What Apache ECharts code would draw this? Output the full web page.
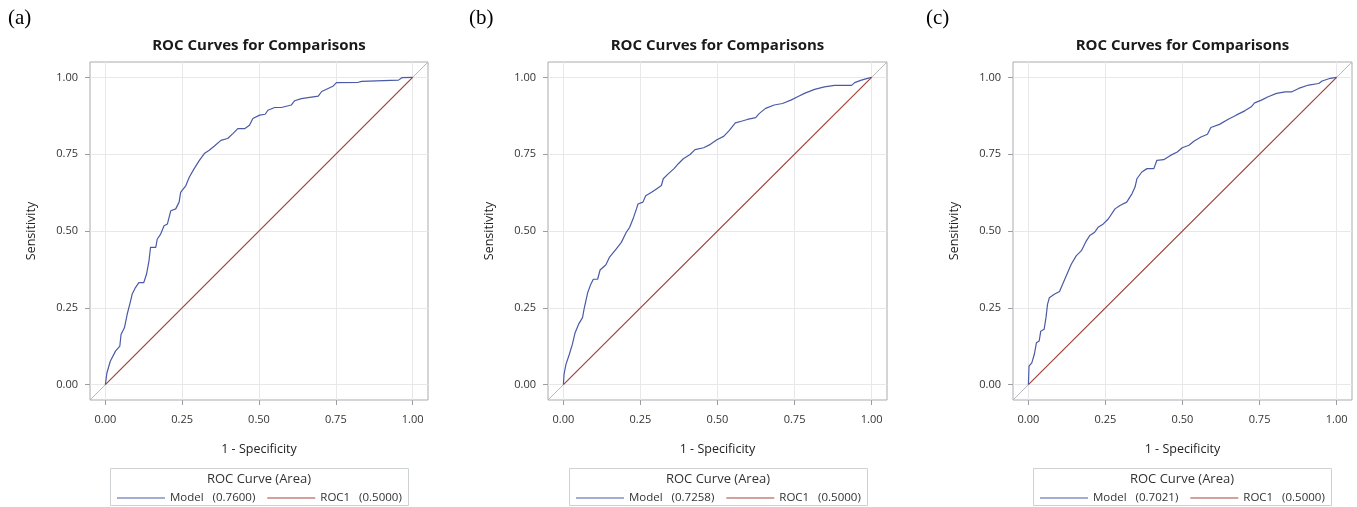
<!DOCTYPE html>
<html>
<head>
<meta charset="utf-8">
<title>ROC Curves for Comparisons</title>
<script src="https://cdn.jsdelivr.net/npm/echarts@6/dist/echarts.min.js"></script>
<style>
    html, body { margin: 0; padding: 0; background: #fff; }
    #main { width: 1357px; height: 507px; }
</style>
</head>
<body>
<div id="main"></div>
<script>
    // ---- data ----
    var panelTags = ['(a)', '(b)', '(c)'];
    var modelAreas = ['0.7600', '0.7258', '0.7021'];
    var tickValues = [0, 0.25, 0.5, 0.75, 1];

    // (a) Model ROC: 1 - specificity / sensitivity
    var fprA = [0, 0.005, 0.016, 0.033, 0.047, 0.051, 0.062, 0.071, 0.082, 0.087, 0.098, 0.109, 0.125, 0.134, 0.142, 0.147, 0.164, 0.169, 0.180, 0.191, 0.202, 0.213, 0.229, 0.240, 0.245, 0.262, 0.273, 0.289, 0.306, 0.322, 0.338, 0.354, 0.376, 0.398, 0.415, 0.431, 0.453, 0.469, 0.480, 0.502, 0.520, 0.529, 0.551, 0.573, 0.605, 0.616, 0.638, 0.665, 0.693, 0.704, 0.725, 0.742, 0.752, 0.823, 0.834, 0.954, 0.965, 1];
    var tprA = [0, 0.038, 0.076, 0.109, 0.125, 0.163, 0.185, 0.229, 0.272, 0.294, 0.316, 0.332, 0.332, 0.360, 0.403, 0.447, 0.447, 0.474, 0.490, 0.517, 0.523, 0.566, 0.572, 0.594, 0.626, 0.648, 0.675, 0.703, 0.730, 0.752, 0.763, 0.776, 0.795, 0.801, 0.817, 0.833, 0.833, 0.844, 0.866, 0.877, 0.880, 0.893, 0.902, 0.902, 0.910, 0.924, 0.931, 0.935, 0.939, 0.954, 0.964, 0.972, 0.983, 0.984, 0.987, 0.991, 0.999, 1];

    // (b)
    var fprB = [0, 0.002, 0.008, 0.019, 0.029, 0.038, 0.049, 0.062, 0.068, 0.079, 0.089, 0.097, 0.111, 0.119, 0.138, 0.149, 0.171, 0.188, 0.204, 0.215, 0.228, 0.237, 0.242, 0.258, 0.267, 0.286, 0.302, 0.318, 0.324, 0.340, 0.359, 0.373, 0.389, 0.411, 0.427, 0.455, 0.477, 0.498, 0.520, 0.537, 0.558, 0.580, 0.597, 0.624, 0.635, 0.656, 0.684, 0.711, 0.738, 0.760, 0.782, 0.815, 0.847, 0.880, 0.935, 0.945, 0.967, 0.984, 1];
    var tprB = [0, 0.033, 0.065, 0.098, 0.131, 0.169, 0.196, 0.218, 0.251, 0.300, 0.327, 0.343, 0.343, 0.373, 0.390, 0.414, 0.441, 0.463, 0.496, 0.512, 0.545, 0.572, 0.588, 0.594, 0.615, 0.626, 0.637, 0.648, 0.670, 0.686, 0.703, 0.719, 0.735, 0.749, 0.765, 0.771, 0.782, 0.797, 0.808, 0.826, 0.852, 0.858, 0.863, 0.869, 0.882, 0.899, 0.910, 0.915, 0.926, 0.937, 0.948, 0.961, 0.969, 0.974, 0.974, 0.983, 0.991, 0.996, 1];

    // (c)
    var fprC = [0, 0.002, 0.011, 0.019, 0.026, 0.035, 0.040, 0.051, 0.057, 0.062, 0.068, 0.084, 0.101, 0.111, 0.125, 0.139, 0.155, 0.172, 0.188, 0.199, 0.215, 0.226, 0.243, 0.259, 0.281, 0.297, 0.319, 0.336, 0.346, 0.352, 0.368, 0.385, 0.407, 0.417, 0.439, 0.461, 0.483, 0.499, 0.521, 0.538, 0.560, 0.581, 0.592, 0.620, 0.647, 0.674, 0.702, 0.723, 0.734, 0.756, 0.778, 0.805, 0.833, 0.855, 0.877, 0.909, 0.942, 0.953, 0.980, 1];
    var tprC = [0, 0.060, 0.071, 0.098, 0.136, 0.142, 0.174, 0.180, 0.218, 0.261, 0.283, 0.294, 0.303, 0.327, 0.359, 0.392, 0.419, 0.436, 0.468, 0.485, 0.496, 0.512, 0.523, 0.539, 0.572, 0.583, 0.594, 0.621, 0.643, 0.670, 0.692, 0.703, 0.703, 0.730, 0.732, 0.746, 0.757, 0.771, 0.779, 0.793, 0.806, 0.815, 0.837, 0.847, 0.863, 0.877, 0.891, 0.904, 0.917, 0.926, 0.937, 0.948, 0.953, 0.953, 0.964, 0.975, 0.980, 0.988, 0.997, 1];

    // chance line (ROC1) and the grey reference diagonal (full axis range)
    var chanceX = [0, 1];
    var chanceY = [0, 1];
    var refX = [-0.05, 1.05];
    var refY = [-0.05, 1.05];

    var fprList = [fprA, fprB, fprC];
    var tprList = [tprA, tprB, tprC];

    function pairs(xs, ys) {
        var out = [];
        for (var i = 0; i < xs.length; i++) out.push([xs[i], ys[i]]);
        return out;
    }

    // ---- layout ----
    var FONT = '"Open Sans", "DejaVu Sans", sans-serif';
    var BLUE = '#4a5aa6', RED = '#a8443a';
    var LINE_ICON = 'path://M0,0 H48 V1.2 H0 Z';
    var gridLefts = [90, 548, 1013];
    var gridWidths = [338, 339, 339];
    var tagLefts = [8, 469, 926];
    var boxLefts = [110, 569, 1033];
    var boxWidth = 298;

    var myChart = echarts.init(document.getElementById('main'), null, {renderer: 'canvas'});

    var grids = [], xAxes = [], yAxes = [], series = [], legends = [], graphics = [];

    function axisCommon(name) {
        return {
            type: 'value',
            min: -0.05,
            max: 1.05,
            name: name,
            nameLocation: 'middle',
            nameTextStyle: {fontFamily: FONT, fontSize: 12.5, color: '#222'},
            axisLine: {show: false, onZero: false},
            axisTick: {show: true, length: 5, customValues: tickValues, lineStyle: {color: '#9a9ea3'}},
            axisLabel: {
                customValues: tickValues,
                fontFamily: FONT, fontSize: 11, color: '#333',
                formatter: function (v) { return v.toFixed(2); }
            },
            splitLine: {show: true, lineStyle: {color: '#e8e8ea', width: 1}}
        };
    }

    for (var p = 0; p < 3; p++) {
        var cx = gridLefts[p] + gridWidths[p] / 2;
        grids.push({
            left: gridLefts[p], top: 62, width: gridWidths[p], height: 338,
            show: true, borderColor: '#a7abb0', borderWidth: 1, backgroundColor: 'transparent'
        });

        var xa = axisCommon('1 - Specificity');
        xa.gridIndex = p;
        xa.nameGap = 43;
        xa.axisLabel.margin = 14;
        xAxes.push(xa);

        var ya = axisCommon('Sensitivity');
        ya.gridIndex = p;
        ya.nameGap = 52;
        ya.axisLabel.margin = 12;
        yAxes.push(ya);

        series.push({
            name: 'ref' + p, type: 'line', xAxisIndex: p, yAxisIndex: p,
            data: pairs(refX, refY), symbol: 'none', silent: true,
            lineStyle: {color: '#b9b9b9', width: 1}, z: 1
        });
        series.push({
            name: 'ROC1   (0.5000)', type: 'line', xAxisIndex: p, yAxisIndex: p,
            data: pairs(chanceX, chanceY), symbol: 'none',
            lineStyle: {color: RED, width: 1.2}, itemStyle: {color: RED}, z: 2
        });
        series.push({
            name: 'Model   (' + modelAreas[p] + ')', type: 'line', xAxisIndex: p, yAxisIndex: p,
            data: pairs(fprList[p], tprList[p]), symbol: 'none',
            lineStyle: {color: BLUE, width: 1.2}, itemStyle: {color: BLUE}, z: 3
        });

        legends.push({
            data: [
                {name: 'Model   (' + modelAreas[p] + ')', icon: LINE_ICON},
                {name: 'ROC1   (0.5000)', icon: LINE_ICON}
            ],
            left: boxLefts[p] + 7, top: 492, padding: 0,
            itemWidth: 48, itemHeight: 14, itemGap: 12,
            textStyle: {fontFamily: FONT, fontSize: 11.5, color: '#333'},
            selectedMode: false
        });

        // panel tag, title, legend box
        graphics.push({
            type: 'text', left: tagLefts[p], top: 8,
            style: {text: panelTags[p], font: '21px "Liberation Serif", "DejaVu Serif", serif', fill: '#000'}
        });
        graphics.push({
            type: 'text', x: cx, y: 46,
            style: {text: 'ROC Curves for Comparisons', font: 'bold 15px ' + FONT, fill: '#1a1a1a',
                align: 'center', verticalAlign: 'middle'}
        });
        graphics.push({
            type: 'rect',
            shape: {x: boxLefts[p] + 0.5, y: 468.5, width: boxWidth, height: 37},
            style: {fill: 'none', stroke: '#cfd2d5', lineWidth: 1}
        });
        graphics.push({
            type: 'text', x: boxLefts[p] + boxWidth / 2, y: 479,
            style: {text: 'ROC Curve (Area)', font: '13px ' + FONT, fill: '#333',
                align: 'center', verticalAlign: 'middle'}
        });
    }

    var option = {
        animation: false,
        backgroundColor: '#fff',
        grid: grids,
        xAxis: xAxes,
        yAxis: yAxes,
        legend: legends,
        graphic: graphics,
        series: series
    };
    myChart.setOption(option);
</script>
</body>
</html>
